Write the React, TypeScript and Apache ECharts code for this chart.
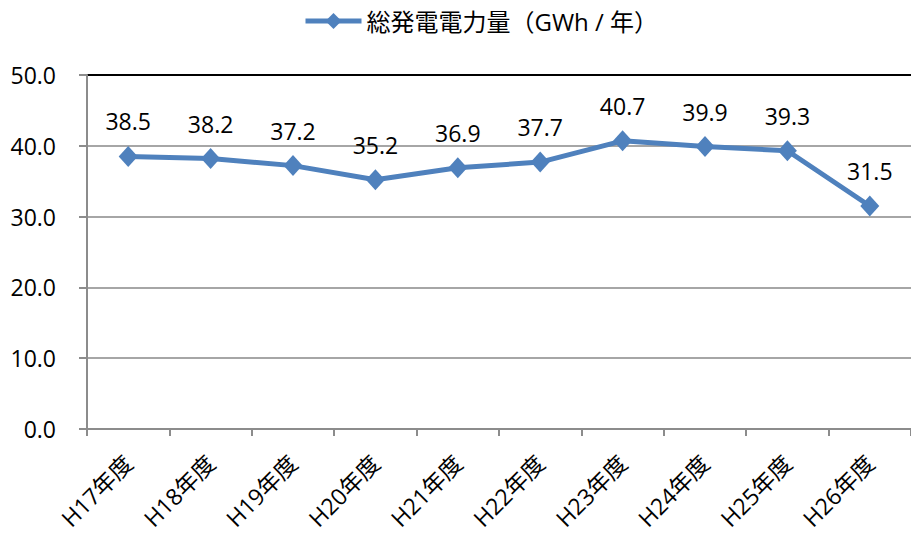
import React, { useEffect, useRef } from "react";
import * as echarts from "echarts";

const categories = ["H17年度", "H18年度", "H19年度", "H20年度", "H21年度", "H22年度", "H23年度", "H24年度", "H25年度", "H26年度"];
const generation = [38.5, 38.2, 37.2, 35.2, 36.9, 37.7, 40.7, 39.9, 39.3, 31.5];
const seriesName = "総発電電力量（GWh / 年）";

const FONT = "'Open Sans', 'Noto Sans CJK JP', sans-serif";
const LINE_BLUE = "#4F81BD";

export default function App() {
  const ref = useRef<HTMLDivElement>(null);

  useEffect(() => {
    if (!ref.current) return;
    const chart = echarts.init(ref.current, undefined, { renderer: "svg" });
    chart.setOption({
      animation: false,
      backgroundColor: "#ffffff",
      textStyle: { fontFamily: FONT },
      legend: {
        top: 4,
        left: 298,
        itemWidth: 56,
        itemHeight: 20,
        itemGap: 6,
        lineStyle: { width: 5 },
        textStyle: { fontSize: 24, color: "#000", fontFamily: FONT },
        data: [seriesName],
      },
      grid: { left: 87, right: -11, top: 75, bottom: 105 },
      xAxis: {
        type: "category",
        data: categories,
        boundaryGap: true,
        axisLine: { lineStyle: { color: "#8c8c8c", width: 2 } },
        axisTick: { show: true, length: 7, lineStyle: { color: "#8c8c8c", width: 2 } },
        axisLabel: { rotate: 45, fontSize: 23, color: "#000", margin: 30, fontFamily: FONT },
      },
      yAxis: {
        type: "value",
        min: 0,
        max: 50,
        interval: 10,
        axisLine: { show: true, lineStyle: { color: "#8c8c8c", width: 2 } },
        axisTick: { show: true, length: 8, lineStyle: { color: "#8c8c8c", width: 2 } },
        axisLabel: {
          fontSize: 23,
          color: "#000",
          margin: 31,
          fontFamily: FONT,
          formatter: (v: number) => v.toFixed(1),
        },
        splitLine: {
          lineStyle: { color: ["#a6a6a6", "#a6a6a6", "#a6a6a6", "#a6a6a6", "#a6a6a6", "#000000"], width: 2 },
        },
      },
      series: [
        {
          name: seriesName,
          type: "line",
          data: generation,
          symbol: "diamond",
          symbolSize: [19, 21],
          lineStyle: { color: LINE_BLUE, width: 5 },
          itemStyle: { color: LINE_BLUE },
          label: {
            show: true,
            position: "top",
            distance: 13,
            fontSize: 23,
            color: "#000",
            fontFamily: FONT,
            formatter: (p: any) => Number(p.value).toFixed(1),
          },
        },
      ],
    });
    return () => chart.dispose();
  }, []);

  return <div ref={ref} style={{ width: 911, height: 534, position: "absolute", left: 0, top: 0 }} />;
}
